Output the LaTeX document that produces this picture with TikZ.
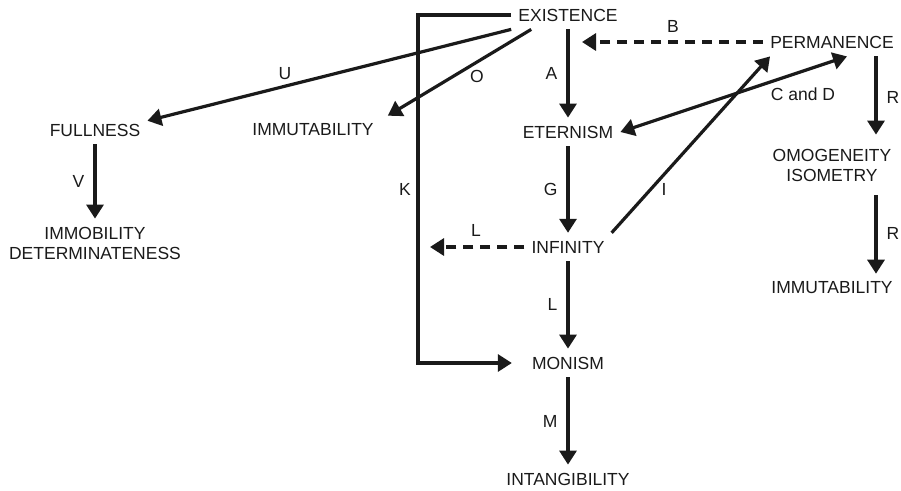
\documentclass[tikz,border=0pt]{standalone}
\usepackage{fontspec}
\setmainfont{Liberation Sans}
\usetikzlibrary{arrows.meta, positioning, calc}
\definecolor{ink}{HTML}{1A1A1A}

\begin{document}
\begin{tikzpicture}[
    x=1pt, y=-1pt,
    >={Triangle[length=14pt, width=17pt]},
    concept/.style={inner xsep=7pt, inner ysep=8pt, align=center, text=ink, font=\fontsize{17.5}{20}\selectfont},
    tag/.style={inner sep=0pt, text=ink, font=\fontsize{17.5}{20}\selectfont},
    arrow/.style={->, line width=3.2pt, draw=ink},
    both/.style={<->, line width=3.2pt, draw=ink},
    dasharrow/.style={arrow, dash pattern=on 10pt off 7pt}
]
\useasboundingbox (0,0) rectangle (901,490);

% central chain
\node[concept] (existence)     at (568,15)  {EXISTENCE};
\node[concept] (eternism)      at (568,132) {ETERNISM};
\node[concept] (infinity)      at (568,247) {INFINITY};
\node[concept] (monism)        at (568,363) {MONISM};
\node[concept] (intangibility) at (568,479) {INTANGIBILITY};
% left side
\node[concept] (fullness)   at (95,130)  {FULLNESS};
\node[concept] (immobility) at (95,243)  {IMMOBILITY\\DETERMINATENESS};
\node[concept] (immut-a)    at (313,130) {IMMUTABILITY};
% right side
\node[concept] (permanence) at (832,42)  {PERMANENCE};
\node[concept] (omogeneity) at (832,165) {OMOGENEITY\\ISOMETRY};
\node[concept] (immut-b)    at (832,288) {IMMUTABILITY};
\coordinate (kcorner) at (418,15);

\foreach \from/\to/\lbl in {existence/eternism/A, eternism/infinity/G, infinity/monism/L, monism/intangibility/M, fullness/immobility/V} {
    \draw[arrow] (\from) -- node[tag, midway, left=9pt] (t-\from) {\lbl} (\to);
}

\draw[arrow] (existence.south west) -- (fullness.10);
\draw[arrow] ([xshift=20pt]existence.south west) -- ([xshift=7pt]immut-a.north east);
\draw[arrow, shorten >=13pt] (existence.west) -- (kcorner) |- (monism.west);
\draw[dasharrow, shorten >=14pt] (permanence.west) -- (permanence.west -| existence.south);
\draw[dasharrow, shorten >=12pt] (infinity.west) -- (infinity.west -| kcorner);
\draw[both] (eternism.east) -- ([xshift=15pt]permanence.south);
\draw[arrow] (infinity.north east) -- ([xshift=7pt]permanence.south west);
\draw[arrow, shorten >=6pt] ([xshift=44pt]permanence.south) -- ([xshift=44pt]omogeneity.north);
\draw[arrow, shorten <=6pt] ([xshift=44pt]omogeneity.south) -- ([xshift=44pt]immut-b.north);

\node[tag] (t-u)  at (285,74)  {U};
\node[tag] (t-o)  at (477,76)  {O};
\node[tag] (t-b)  at (673,26)  {B};
\node[tag] (t-k)  at (405,189) {K};
\node[tag] (t-cd) at (803,94)  {C and D};
\node[tag] (t-i)  at (664,189) {I};
\node[tag] (t-l)  at (476,230) {L};
\node[tag] (t-r1) at (893,97)  {R};
\node[tag] (t-r2) at (893,233) {R};
\end{tikzpicture}
\end{document}
